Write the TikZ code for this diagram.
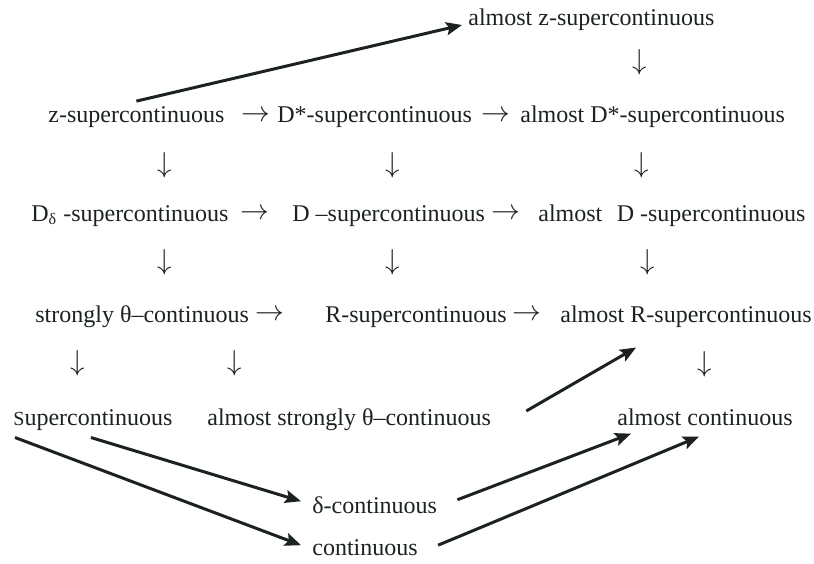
\documentclass[tikz,border=0pt]{standalone}
\usepackage{fontspec}
\setmainfont{Liberation Serif}
\usetikzlibrary{arrows.meta, positioning}
\definecolor{inkdark}{RGB}{28, 34, 34}

\begin{document}
\begin{tikzpicture}[
  x=0.5pt, y=-0.5pt,
  term/.style={inner sep=0pt, anchor=base west, font=\fontsize{12pt}{14pt}\selectfont, text=inkdark},
  glyph/.style={inner sep=0pt, anchor=center, font=\fontsize{13.5pt}{15pt}\selectfont, text=inkdark},
  implies/.style={draw=inkdark, line width=1.5pt, -{Stealth[length=8pt, width=6.5pt, inset=1.5pt]}}
]
  \useasboundingbox[fill=white] (0,0) rectangle (814,563);

  % top
  \node[term] (azsup) at (468,25) {almost z-supercontinuous};
  \node[glyph] (dtop) at (640,62) {$\downarrow$};

  % first row
  \node[term] (zsup) at (48,122) {z-supercontinuous};
  \node[glyph] (ra1) at (256,116) {$\rightarrow$};
  \node[term] (dssup) at (277,122) {D*-supercontinuous};
  \node[glyph] (rb1) at (496,116) {$\rightarrow$};
  \node[term] (adssup) at (520,122) {almost D*-supercontinuous};
  \node[glyph] (da1) at (165,165) {$\downarrow$};
  \node[glyph] (db1) at (393,165) {$\downarrow$};
  \node[glyph] (dc1) at (642,165) {$\downarrow$};

  % second row
  \node[term] (ddsup) at (31,221) {D\textsubscript{δ} -supercontinuous};
  \node[glyph] (ra2) at (255,214) {$\rightarrow$};
  \node[term] (dsup) at (292,221) {D –supercontinuous};
  \node[glyph] (rb2) at (506,214) {$\rightarrow$};
  \node[term] (adsup) at (538,221) {almost\hspace{0.6em}D -supercontinuous};
  \node[glyph] (da2) at (165,262) {$\downarrow$};
  \node[glyph] (db2) at (393,262) {$\downarrow$};
  \node[glyph] (dc2) at (648,262) {$\downarrow$};

  % third row
  \node[term] (sth) at (35,322) {strongly θ–continuous};
  \node[glyph] (ra3) at (270,315) {$\rightarrow$};
  \node[term] (rsup) at (325,322) {R-supercontinuous};
  \node[glyph] (rb3) at (527,315) {$\rightarrow$};
  \node[term] (arsup) at (560,322) {almost R-supercontinuous};
  \node[glyph] (da3) at (78,363) {$\downarrow$};
  \node[glyph] (db3) at (235,363) {$\downarrow$};
  \node[glyph] (dc3) at (705,364) {$\downarrow$};

  % fourth row
  \node[term] (sup) at (13,425) {{\fontsize{10pt}{12pt}\selectfont S}upercontinuous};
  \node[term] (asth) at (207,425) {almost strongly θ–continuous};
  \node[term] (acont) at (617,425) {almost continuous};

  % bottom
  \node[term] (dcont) at (312,513) {δ-continuous};
  \node[term] (cont) at (312,555) {continuous};

  % long implications
  \draw[implies] ([yshift=2.3pt]zsup.north) -- ([xshift=-3pt]azsup.base west);
  \draw[implies] ([xshift=17.5pt, yshift=7pt]asth.base east) -- ([xshift=-25pt, yshift=-10pt]arsup.south);
  \draw[implies] ([xshift=-1pt, yshift=-3.5pt]sup.south) -- ([xshift=-5.5pt, yshift=1.75pt]dcont.west);
  \draw[implies] ([xshift=1pt, yshift=-3.5pt]sup.south west) -- ([xshift=-5.5pt, yshift=1pt]cont.west);
  \draw[implies] ([xshift=10pt, yshift=2.5pt]dcont.east) -- ([xshift=7pt, yshift=-4pt]acont.south west);
  \draw[implies] ([xshift=10pt, yshift=1pt]cont.east) -- ([xshift=-3pt, yshift=-5.5pt]acont.south);
\end{tikzpicture}
\end{document}
